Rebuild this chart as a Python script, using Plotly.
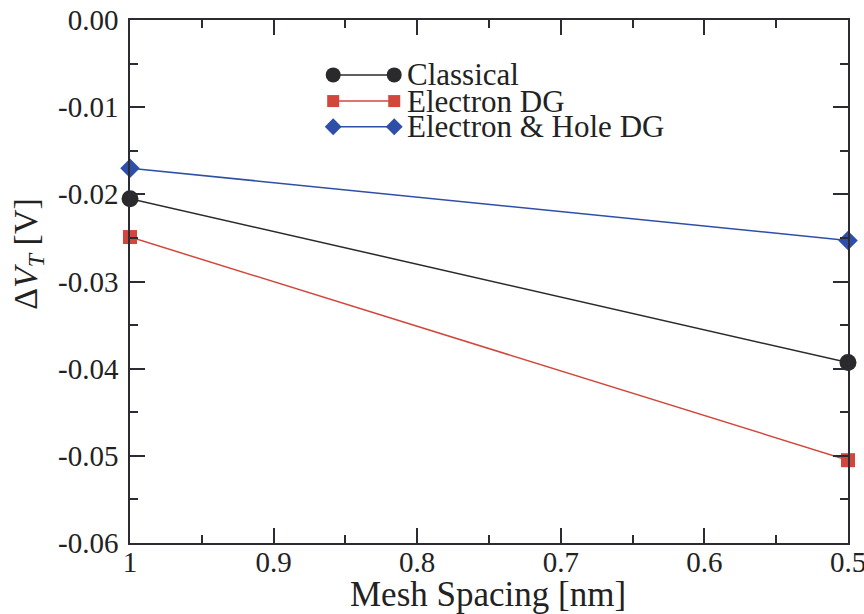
import plotly.graph_objects as go

# Mesh spacing (nm) and threshold-voltage shift (V) for each model
mesh_spacing = [1.0, 0.5]
classical = [-0.0205, -0.0393]
electron_dg = [-0.0249, -0.0505]
electron_hole_dg = [-0.0170, -0.0253]

series_names = ["Classical", "Electron DG", "Electron & Hole DG"]
series_colors = ["#2a2a2c", "#d2473b", "#2f4ea8"]
series_symbols = ["circle", "square", "diamond"]
series_sizes = [17, 14, 15]

y_ticks = [0.0, -0.01, -0.02, -0.03, -0.04, -0.05, -0.06]
y_tick_labels = ["0.00", "-0.01", "-0.02", "-0.03", "-0.04", "-0.05", "-0.06"]
x_ticks = [1.0, 0.9, 0.8, 0.7, 0.6, 0.5]
x_tick_labels = ["1", "0.9", "0.8", "0.7", "0.6", "0.5"]

FONT = "Times New Roman, Liberation Serif, serif"
TEXT_COLOR = "#222222"
AXIS_COLOR = "#2b2b33"

fig = go.Figure()

for name, ys, color, sym, size in zip(series_names,
                                      [classical, electron_dg, electron_hole_dg],
                                      series_colors, series_symbols, series_sizes):
    fig.add_trace(go.Scatter(
        x=mesh_spacing, y=ys, name=name, mode="lines+markers",
        line=dict(color=color, width=1.5),
        marker=dict(symbol=sym, size=size, color=color),
        cliponaxis=False, showlegend=False,
    ))

# Legend drawn on an overlay axis in paper-like units: a marker at each end of the sample line
legend_y = [0.895, 0.845, 0.796]
for name, ly, color, sym, size in zip(series_names, legend_y, series_colors,
                                      series_symbols, series_sizes):
    fig.add_trace(go.Scatter(
        x=[0.283, 0.368], y=[ly, ly], mode="lines+markers",
        line=dict(color=color, width=1.5),
        marker=dict(symbol=sym, size=size - 2, color=color),
        xaxis="x2", yaxis="y2", showlegend=False, hoverinfo="skip",
    ))
    fig.add_annotation(
        x=0.383, y=ly, xref="paper", yref="paper", text=name, showarrow=False,
        xanchor="left", yanchor="middle",
        font=dict(family=FONT, size=31, color=TEXT_COLOR),
    )

# Axis titles placed as paper annotations
fig.add_annotation(
    x=0.498, y=-0.098, xref="paper", yref="paper", text="Mesh Spacing [nm]",
    showarrow=False, xanchor="center", yanchor="middle",
    font=dict(family=FONT, size=35, color=TEXT_COLOR),
)
fig.add_annotation(
    x=-0.142, y=0.553, xref="paper", yref="paper",
    text="Δ<i>V</i><sub><i>T</i></sub> [V]", textangle=-90,
    showarrow=False, xanchor="center", yanchor="middle",
    font=dict(family=FONT, size=34, color=TEXT_COLOR),
)

tick_font = dict(family=FONT, size=29, color=TEXT_COLOR)

fig.update_layout(
    width=864, height=614,
    margin=dict(l=130, r=16, t=20, b=71),
    paper_bgcolor="white", plot_bgcolor="white",
    font=dict(family=FONT, color=TEXT_COLOR),
    xaxis=dict(
        range=[1.0, 0.5], tickvals=x_ticks, ticktext=x_tick_labels,
        ticks="inside", ticklen=15, tickwidth=1.5, tickcolor=AXIS_COLOR,
        minor=dict(ticks="inside", dtick=0.05, ticklen=8, tickwidth=1.5,
                   tickcolor=AXIS_COLOR, tick0=0.5),
        showline=True, linecolor=AXIS_COLOR, linewidth=1.5, mirror="ticks",
        showgrid=False, zeroline=False, tickfont=tick_font, ticklabelstandoff=-8,
        ticklabeloverflow="allow", automargin=False,
    ),
    yaxis=dict(
        range=[-0.06, 0.0], tickvals=y_ticks, ticktext=y_tick_labels,
        ticks="inside", ticklen=15, tickwidth=1.5, tickcolor=AXIS_COLOR,
        minor=dict(ticks="inside", dtick=0.005, ticklen=8, tickwidth=1.5,
                   tickcolor=AXIS_COLOR, tick0=0),
        showline=True, linecolor=AXIS_COLOR, linewidth=1.5, mirror="ticks",
        showgrid=False, zeroline=False, tickfont=tick_font, ticklabelstandoff=4,
        ticklabeloverflow="allow", automargin=False,
    ),
    xaxis2=dict(domain=[0, 1], range=[0, 1], overlaying="x", visible=False,
                fixedrange=True),
    yaxis2=dict(domain=[0, 1], range=[0, 1], overlaying="y", visible=False,
                fixedrange=True),
    showlegend=False,
)

fig.write_html("out.html")
